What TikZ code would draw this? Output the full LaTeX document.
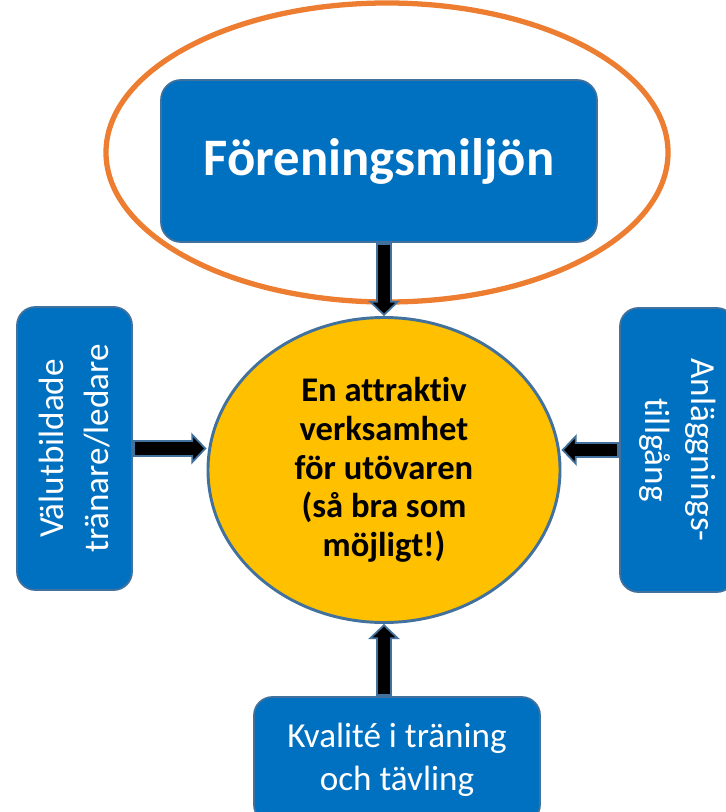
\documentclass[tikz,border=0pt]{standalone}
\usepackage{fontspec}
\setmainfont{Carlito}[Ligatures=CommonOff]
\usepackage{xcolor}
\usetikzlibrary{shapes.geometric,arrows.meta,positioning,calc}
\definecolor{boxblue}{HTML}{0070C0}
\definecolor{edgeblue}{HTML}{41719C}
\definecolor{goalyellow}{HTML}{FFC000}
\definecolor{ringorange}{HTML}{ED7D31}
\tikzset{
    areabox/.style={
        rectangle, rounded corners=0.55cm, draw=edgeblue, line width=1.5pt,
        fill=boxblue, text=white, align=center, inner sep=0pt
    },
    goalnode/.style={
        ellipse, draw=edgeblue, line width=2.5pt, fill=goalyellow,
        align=center, inner sep=0pt, font=\fontsize{29.5}{33}\selectfont\bfseries
    },
    focusring/.style={
        ellipse, draw=ringorange, line width=4.5pt, inner sep=0pt
    },
    blockarrow/.style={
        draw=edgeblue, line width=14pt,
        -{Triangle[length=13pt,width=27pt,fill=black,line width=1.5pt]},
        postaction={draw=black, line width=11pt, -, shorten >=11pt, shorten <=1.5pt}
    }
}

\begin{document}
\begin{tikzpicture}[x=0.03cm, y=-0.03cm]
\useasboundingbox (0,0) rectangle (725,812);

%% ring behind the top box
\node[focusring, minimum width=16.86cm, minimum height=8.97cm] (ring) at (387,152.5) {};

%% top box
\node[areabox, rounded corners=0.6cm, minimum width=13.08cm, minimum height=4.86cm,
      font=\fontsize{45}{54}\selectfont\bfseries] (miljo) at (379,161) {Föreningsmiljön};

%% centre goal
\node[goalnode, minimum width=10.56cm, minimum height=9.15cm] (goal) at (384,470)
    {En attraktiv\\verksamhet\\för utövaren\\(så bra som\\möjligt!)};

%% side boxes, turned (south anchor faces the goal)
\node[areabox, rotate=90, minimum width=8.49cm, minimum height=3.45cm,
      font=\fontsize{30}{39}\selectfont] (ledare) at (74.5,448.5) {Välutbildade\\tränare/ledare};
\node[areabox, rotate=-90, minimum width=8.52cm, minimum height=3.45cm,
      font=\fontsize{30}{39}\selectfont] (anlagg) at (677.5,450) {Anläggnings-\\tillgång};

%% bottom box
\node[areabox, minimum width=8.58cm, minimum height=3.78cm,
      font=\fontsize{30}{37}\selectfont] (kvalite) at (397,760) {Kvalité i träning\\och tävling};

%% arrows into the goal
\draw[blockarrow] (goal.north |- miljo.south) -- (goal.north);
\draw[blockarrow] (ledare.south) -- (ledare.south -| goal.west);
\draw[blockarrow] (anlagg.south) -- (anlagg.south -| goal.east);
\draw[blockarrow] (goal.south |- kvalite.north) -- (goal.south);

\end{tikzpicture}
\end{document}
